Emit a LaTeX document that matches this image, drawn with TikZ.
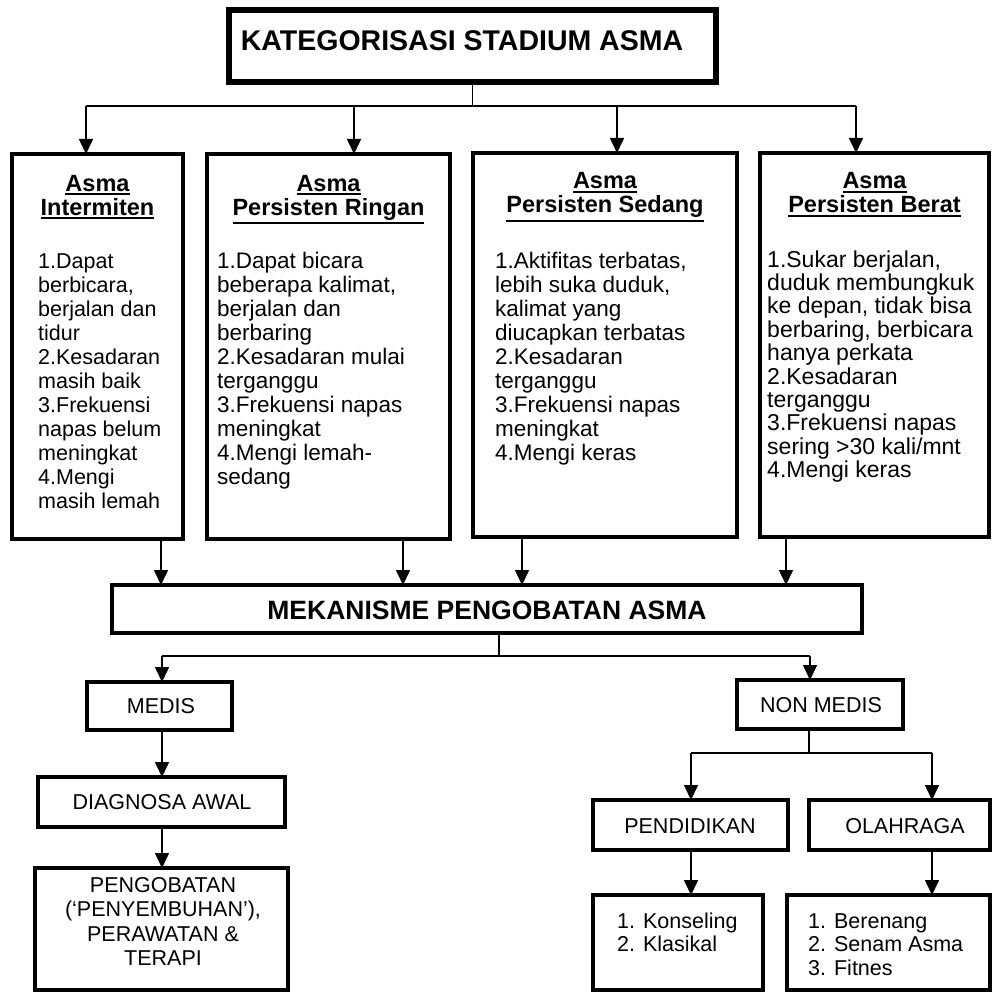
\documentclass[tikz,border=0pt]{standalone}
\usepackage{fontspec}
\setmainfont{Liberation Sans}
\usetikzlibrary{arrows.meta}

% underlined header line: the rule sits below the descenders
\newcommand\hdrline[1]{\setbox0=\hbox{#1}\leavevmode\rlap{\raisebox{-\dimexpr\dp0+3.6pt\relax}{\rule{\wd0}{1.9pt}}}\box0}

% multi-line nodes are placed by the baseline of their LAST line
\tikzset{
  frame/.style={draw, line width=4.2pt, inner sep=0pt, outer sep=0pt},
  thinframe/.style={draw, line width=3.6pt, inner sep=0pt, outer sep=0pt},
  conn/.style={line width=1.6pt},
  arr/.style={conn, -{Triangle[length=15pt,width=14pt]}},
  bigtitle/.style={font=\bfseries\fontsize{28.5}{30}\selectfont, inner sep=0pt},
  midtitle/.style={font=\bfseries\fontsize{26.5}{30}\selectfont, inner sep=0pt},
  hdrtext/.style={font=\bfseries\fontsize{23.5}{24}\selectfont, align=center, anchor=base, inner sep=0pt},
  bodytext/.style={font=\fontsize{22.5}{24}\selectfont, align=left, anchor=base west, inner sep=0pt},
  smalltext/.style={font=\fontsize{21.5}{24.5}\selectfont, align=center, inner sep=0pt},
  listtext/.style={font=\fontsize{21.5}{23.5}\selectfont, align=left, anchor=base west, inner sep=0pt},
}

\begin{document}
\begin{tikzpicture}[x=1pt,y=-1pt]
\useasboundingbox (0,0) rectangle (992,992);

% ---- top category ----
\node[frame, line width=5.5pt, minimum width=487pt, minimum height=72pt] (title) at (472.5,46) {};
\node[bigtitle] (titletxt) at (462,41) {KATEGORISASI STADIUM ASMA};

% ---- four stages ----
\node[frame, minimum width=171pt, minimum height=385pt] (b1) at (97.5,346.5) {};
\node[frame, minimum width=243pt, minimum height=385pt] (b2) at (328.5,346.5) {};
\node[frame, minimum width=264pt, minimum height=384pt] (b3) at (605,345) {};
\node[frame, minimum width=229pt, minimum height=384pt] (b4) at (874.5,345) {};

\node[hdrtext] (h1) at (97.5,215) {\hdrline{Asma}\\\hdrline{Intermiten}};
\node[hdrtext] (h2) at (328.5,215) {\hdrline{Asma}\\\hdrline{Persisten Ringan}};
\node[hdrtext] (h3) at (605,213) {\hdrline{Asma}\\\hdrline{Persisten Sedang}};
\node[hdrtext] (h4) at (874.5,213) {\hdrline{Asma}\\\hdrline{Persisten Berat}};

\node[bodytext, font=\fontsize{21.5}{24}\selectfont] (l1) at (38,508) {1.Dapat\\berbicara,\\berjalan dan\\tidur\\2.Kesadaran\\masih baik\\3.Frekuensi\\napas belum\\meningkat\\4.Mengi\\masih lemah};
\node[bodytext] (l2) at (217,484) {1.Dapat bicara\\beberapa kalimat,\\berjalan dan\\berbaring\\2.Kesadaran mulai\\terganggu\\3.Frekuensi napas\\meningkat\\4.Mengi lemah-\\sedang};
\node[bodytext] (l3) at (495,460) {1.Aktifitas terbatas,\\lebih suka duduk,\\kalimat yang\\diucapkan terbatas\\2.Kesadaran\\terganggu\\3.Frekuensi napas\\meningkat\\4.Mengi keras};
\node[bodytext, font=\fontsize{23}{23.4}\selectfont] (l4) at (767,477.6) {1.Sukar berjalan,\\duduk membungkuk\\ke depan, tidak bisa\\berbaring, berbicara\\hanya perkata\\2.Kesadaran\\terganggu\\3.Frekuensi napas\\sering >30 kali/mnt\\4.Mengi keras};

% ---- treatment mechanism ----
\node[frame, minimum width=750pt, minimum height=48pt] (mid) at (487,609) {};
\node[midtitle] (midtxt) at (487,610) {MEKANISME PENGOBATAN ASMA};

% ---- medical branch ----
\node[thinframe, minimum width=145pt, minimum height=48pt] (medis) at (159.5,706) {};
\node[smalltext] (medistxt) at (161,706) {MEDIS};
\node[thinframe, minimum width=247pt, minimum height=50pt] (diag) at (161.5,802) {};
\node[smalltext] (diagtxt) at (162,802) {DIAGNOSA AWAL};
\node[thinframe, minimum width=253pt, minimum height=122pt] (obat) at (161.5,929) {};
\node[smalltext, anchor=base] (obattxt) at (163,965.5) {PENGOBATAN\\(`PENYEMBUHAN'),\\PERAWATAN \&\\TERAPI};

% ---- non-medical branch ----
\node[thinframe, minimum width=166pt, minimum height=49pt] (nonmedis) at (820,704.5) {};
\node[smalltext] (nonmedistxt) at (821,705) {NON MEDIS};
\node[thinframe, minimum width=195pt, minimum height=50pt] (didik) at (690.5,825) {};
\node[smalltext] (didiktxt) at (690,826) {PENDIDIKAN};
\node[thinframe, minimum width=181pt, minimum height=50pt] (olah) at (899.5,825) {};
\node[smalltext] (olahtxt) at (905,826) {OLAHRAGA};
\node[thinframe, minimum width=170pt, minimum height=95pt] (lista) at (678,942.5) {};
\node[listtext] (listatxt) at (617,951.5) {1. Konseling\\2. Klasikal};
\node[thinframe, minimum width=203pt, minimum height=95pt] (listb) at (888.5,942.5) {};
\node[listtext] (listbtxt) at (808,975) {1. Berenang\\2. Senam Asma\\3. Fitnes};

% ---- connectors: title to stages ----
\coordinate (t1) at (86,106);
\coordinate (t2) at (354,106);
\coordinate (t3) at (617,106);
\coordinate (t4) at (856,106);
\draw[conn] (title.south) -- (title.south |- t1);
\draw[conn] (t1) -- (t4);
\draw[arr] (t1) -- (t1 |- b1.north);
\draw[arr] (t2) -- (t2 |- b2.north);
\draw[arr] (t3) -- (t3 |- b3.north);
\draw[arr] (t4) -- (t4 |- b4.north);

% ---- connectors: stages to mechanism ----
\coordinate (d1) at (161,0);
\coordinate (d2) at (403,0);
\coordinate (d3) at (522,0);
\coordinate (d4) at (786,0);
\draw[arr] (b1.south -| d1) -- (d1 |- mid.north);
\draw[arr] (b2.south -| d2) -- (d2 |- mid.north);
\draw[arr] (b3.south -| d3) -- (d3 |- mid.north);
\draw[arr] (b4.south -| d4) -- (d4 |- mid.north);

% ---- connectors: mechanism to branches ----
\coordinate (m0) at (499,656);
\coordinate (mL) at (162,656);
\coordinate (mR) at (810,656);
\draw[conn] (mid.south -| m0) -- (m0);
\draw[conn] (mL) -- (mR);
\draw[arr] (mL) -- (mL |- medis.north);
\draw[arr] (mR) -- (mR |- nonmedis.north);

\draw[arr] (medis.south -| mL) -- (mL |- diag.north);
\draw[arr] (diag.south -| mL) -- (mL |- obat.north);

\coordinate (n0) at (809,753);
\coordinate (nL) at (691,753);
\coordinate (nR) at (932,753);
\draw[conn] (nonmedis.south -| n0) -- (n0);
\draw[conn] (nL) -- (nR);
\draw[arr] (nL) -- (nL |- didik.north);
\draw[arr] (nR) -- (nR |- olah.north);
\draw[arr] (didik.south -| nL) -- (nL |- lista.north);
\draw[arr] (olah.south -| nR) -- (nR |- listb.north);
\end{tikzpicture}
\end{document}
